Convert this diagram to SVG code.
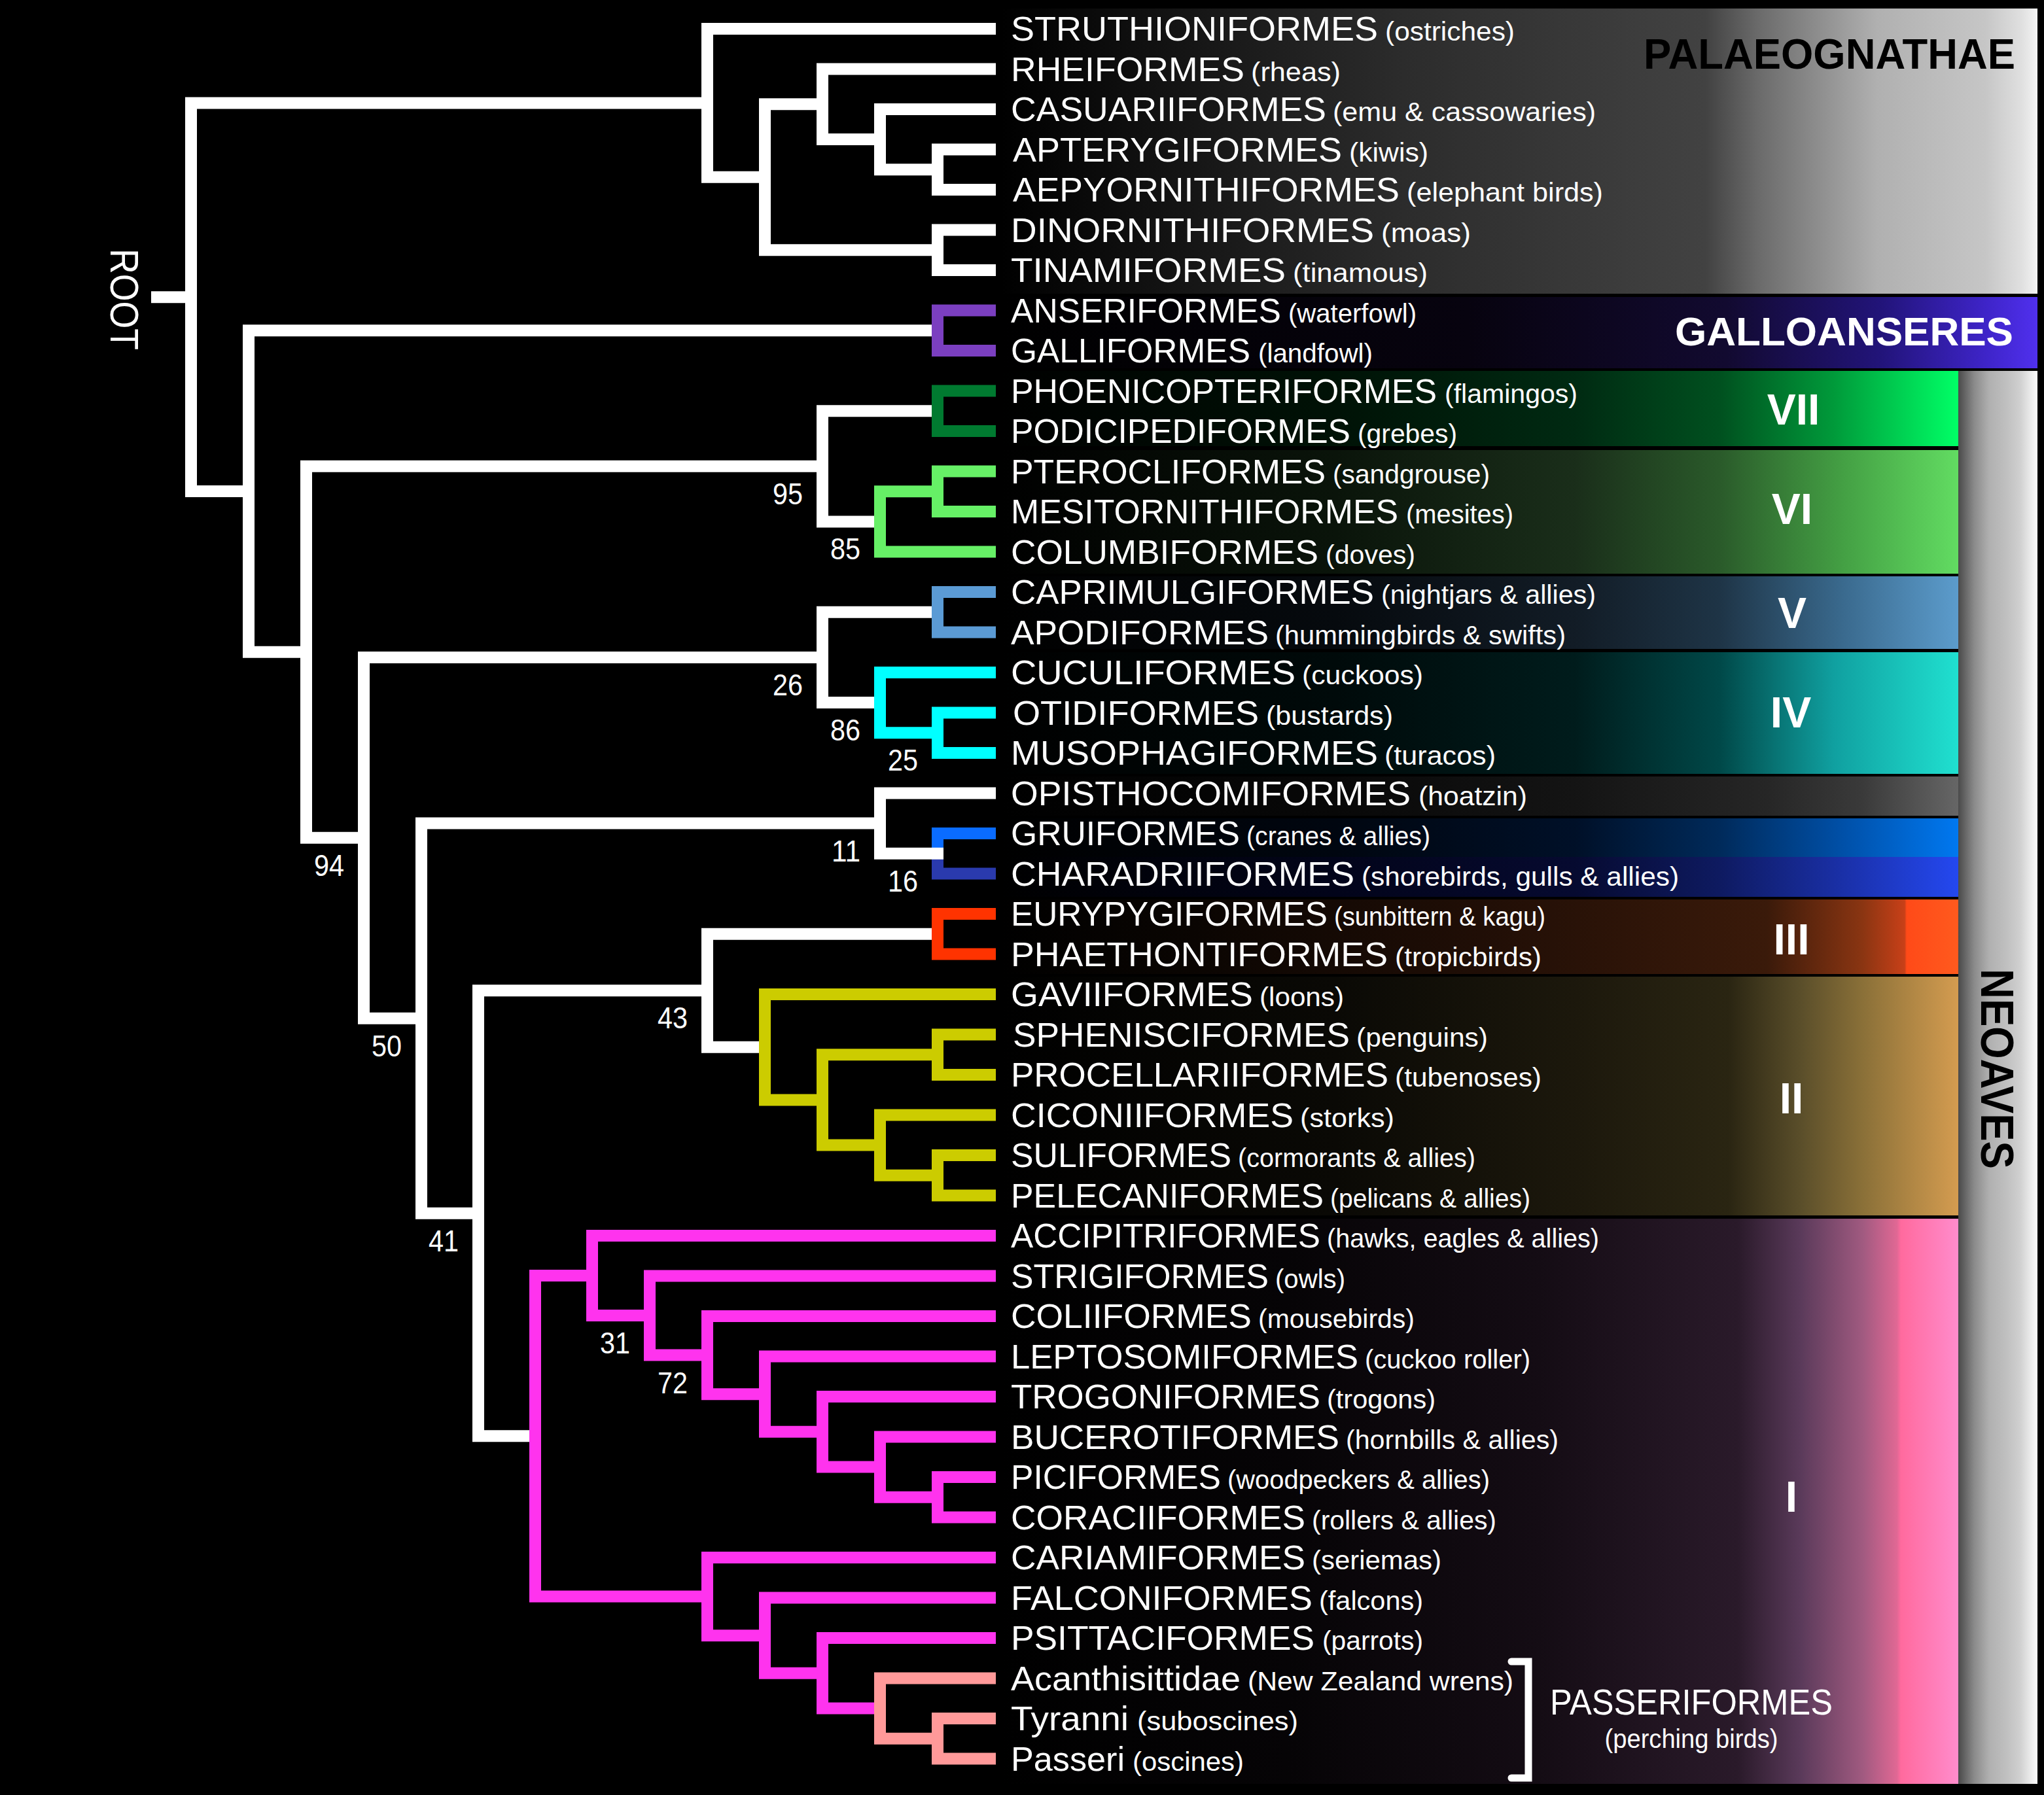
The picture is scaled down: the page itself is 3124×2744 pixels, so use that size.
<svg xmlns="http://www.w3.org/2000/svg" width="3124" height="2744" viewBox="0 0 3124 2744">
<style>
.n{font-family:"Liberation Sans",Arial,sans-serif;font-size:52px;fill:#fff}
.c{font-family:"Liberation Sans",Arial,sans-serif;font-size:40px;fill:#fff}
.s{font-family:"Liberation Sans",Arial,sans-serif;font-size:46px;fill:#fff;text-anchor:end}
.r{font-family:"Liberation Sans",Arial,sans-serif;font-size:66px;font-weight:bold;fill:#fff;text-anchor:middle}
.br{fill:none;stroke-width:18;stroke-linejoin:miter;stroke-linecap:butt}
.w{stroke:#fff}.pu{stroke:#7b3fc0}.dg{stroke:#007a30}.lg{stroke:#66f066}.sb{stroke:#5b9bd5}.cy{stroke:#00ffff}
.bl{stroke:#0a6cff}.db{stroke:#2a3aad}.rd{stroke:#ff3300}.ye{stroke:#cccc00}.mg{stroke:#ff33ee}.sa{stroke:#ff9999}
</style>
<defs>
<linearGradient id="gPal" gradientUnits="userSpaceOnUse" x1="1530" y1="0" x2="3114" y2="0">
<stop offset="0" stop-color="#000"/><stop offset="0.17" stop-color="#141414"/><stop offset="0.39" stop-color="#2c2c2c"/><stop offset="0.68" stop-color="#424242"/><stop offset="0.73" stop-color="#6a6a6a"/><stop offset="0.845" stop-color="#b0b0b0"/><stop offset="0.95" stop-color="#c6c6c6"/><stop offset="0.985" stop-color="#e0e0e0"/><stop offset="1" stop-color="#f4f4f4"/>
</linearGradient>
<linearGradient id="gGal" gradientUnits="userSpaceOnUse" x1="1530" y1="0" x2="3114" y2="0">
<stop offset="0" stop-color="#000"/><stop offset="0.45" stop-color="#07030f"/><stop offset="0.7" stop-color="#120a30"/><stop offset="0.85" stop-color="#22147a"/><stop offset="0.95" stop-color="#3e24c8"/><stop offset="1" stop-color="#5030ee"/>
</linearGradient>
<linearGradient id="g7" gradientUnits="userSpaceOnUse" x1="1530" y1="0" x2="2993" y2="0">
<stop offset="0" stop-color="#000"/><stop offset="0.35" stop-color="#001206"/><stop offset="0.6" stop-color="#002a12"/><stop offset="0.75" stop-color="#00501f"/><stop offset="0.87" stop-color="#009a3a"/><stop offset="1" stop-color="#00ff66"/>
</linearGradient>
<linearGradient id="g6" gradientUnits="userSpaceOnUse" x1="1530" y1="0" x2="2993" y2="0">
<stop offset="0" stop-color="#000"/><stop offset="0.35" stop-color="#0a140a"/><stop offset="0.6" stop-color="#1a2e1a"/><stop offset="0.75" stop-color="#2a5a2a"/><stop offset="0.88" stop-color="#44a044"/><stop offset="1" stop-color="#62dc62"/>
</linearGradient>
<linearGradient id="g5" gradientUnits="userSpaceOnUse" x1="1530" y1="0" x2="2993" y2="0">
<stop offset="0" stop-color="#000"/><stop offset="0.35" stop-color="#060a0e"/><stop offset="0.6" stop-color="#121c26"/><stop offset="0.75" stop-color="#1e3446"/><stop offset="0.88" stop-color="#3a6a8e"/><stop offset="1" stop-color="#5c9ccc"/>
</linearGradient>
<linearGradient id="g4" gradientUnits="userSpaceOnUse" x1="1530" y1="0" x2="2993" y2="0">
<stop offset="0" stop-color="#000"/><stop offset="0.35" stop-color="#000a0a"/><stop offset="0.6" stop-color="#001c1c"/><stop offset="0.75" stop-color="#004848"/><stop offset="0.87" stop-color="#10a0a0"/><stop offset="1" stop-color="#20e0d0"/>
</linearGradient>
<linearGradient id="gOp" gradientUnits="userSpaceOnUse" x1="1530" y1="0" x2="2993" y2="0">
<stop offset="0" stop-color="#000"/><stop offset="0.35" stop-color="#080808"/><stop offset="0.6" stop-color="#141414"/><stop offset="0.8" stop-color="#262626"/><stop offset="0.9" stop-color="#3a3a3a"/><stop offset="1" stop-color="#666"/>
</linearGradient>
<linearGradient id="gGr" gradientUnits="userSpaceOnUse" x1="1530" y1="0" x2="2993" y2="0">
<stop offset="0" stop-color="#000"/><stop offset="0.35" stop-color="#000610"/><stop offset="0.6" stop-color="#001028"/><stop offset="0.75" stop-color="#002a5a"/><stop offset="0.88" stop-color="#0050a8"/><stop offset="1" stop-color="#0078f0"/>
</linearGradient>
<linearGradient id="gCh" gradientUnits="userSpaceOnUse" x1="1530" y1="0" x2="2993" y2="0">
<stop offset="0" stop-color="#000"/><stop offset="0.35" stop-color="#02041a"/><stop offset="0.6" stop-color="#060a30"/><stop offset="0.75" stop-color="#0e1a60"/><stop offset="0.88" stop-color="#1a30a8"/><stop offset="1" stop-color="#2448f0"/>
</linearGradient>
<linearGradient id="g3" gradientUnits="userSpaceOnUse" x1="1530" y1="0" x2="2993" y2="0">
<stop offset="0" stop-color="#000"/><stop offset="0.2" stop-color="#0a0502"/><stop offset="0.5" stop-color="#200e06"/><stop offset="0.8" stop-color="#3a1a0a"/><stop offset="0.9" stop-color="#8a3512"/><stop offset="0.944" stop-color="#c84018"/><stop offset="0.946" stop-color="#ff4a18"/><stop offset="1" stop-color="#ff5a1e"/>
</linearGradient>
<linearGradient id="g2" gradientUnits="userSpaceOnUse" x1="1530" y1="0" x2="2993" y2="0">
<stop offset="0" stop-color="#000"/><stop offset="0.35" stop-color="#0a0905"/><stop offset="0.6" stop-color="#1c180c"/><stop offset="0.76" stop-color="#2a2512"/><stop offset="0.835" stop-color="#5a4e2a"/><stop offset="0.9" stop-color="#8a7038"/><stop offset="1" stop-color="#d49c50"/>
</linearGradient>
<linearGradient id="g1" gradientUnits="userSpaceOnUse" x1="1530" y1="0" x2="2993" y2="0">
<stop offset="0" stop-color="#000"/><stop offset="0.3" stop-color="#060406"/><stop offset="0.56" stop-color="#140c14"/><stop offset="0.77" stop-color="#2a1a2a"/><stop offset="0.835" stop-color="#5a3a5a"/><stop offset="0.9" stop-color="#a05a80"/><stop offset="0.936" stop-color="#e06894"/><stop offset="0.94" stop-color="#ff6a9e"/><stop offset="1" stop-color="#ff8ccc"/>
</linearGradient>
<linearGradient id="gNeo" gradientUnits="userSpaceOnUse" x1="2993" y1="0" x2="3114" y2="0">
<stop offset="0" stop-color="#4a4a4a"/><stop offset="0.2" stop-color="#8a8a8a"/><stop offset="0.39" stop-color="#b0b0b0"/><stop offset="0.61" stop-color="#c0c0c0"/><stop offset="0.78" stop-color="#d0d0d0"/><stop offset="0.94" stop-color="#f0f0f0"/><stop offset="1" stop-color="#fafafa"/>
</linearGradient>
</defs>
<rect x="0" y="0" width="3124" height="2744" fill="#000"/>
<g id="bands">
<rect x="1530" y="13" width="1584" height="436" fill="url(#gPal)"/>
<rect x="1530" y="454" width="1584" height="109" fill="url(#gGal)"/>
<rect x="2993" y="567" width="121" height="2160" fill="url(#gNeo)"/>
<rect x="1530" y="567" width="1463" height="115" fill="url(#g7)"/>
<rect x="1530" y="688" width="1463" height="189" fill="url(#g6)"/>
<rect x="1530" y="881" width="1463" height="111" fill="url(#g5)"/>
<rect x="1530" y="997" width="1463" height="186" fill="url(#g4)"/>
<rect x="1530" y="1187" width="1463" height="60" fill="url(#gOp)"/>
<rect x="1530" y="1251" width="1463" height="59" fill="url(#gGr)"/>
<rect x="1530" y="1310" width="1463" height="61" fill="url(#gCh)"/>
<rect x="1530" y="1375" width="1463" height="114" fill="url(#g3)"/>
<rect x="1530" y="1493" width="1463" height="365" fill="url(#g2)"/>
<rect x="1530" y="1863" width="1463" height="864" fill="url(#g1)"/>
</g>
<g id="connectors">
<path class="br w" d="M231,454.2 H292"/>
<path class="br w" d="M1081,157.4 H292 V751 H380"/>
<path class="br w" d="M1522,44 H1081 V270.8 H1169"/>
<path class="br w" d="M1257,159.3 H1169 V382.25 H1433"/>
<path class="br w" d="M1522,105.5 H1257 V213.1 H1345"/>
<path class="br w" d="M1522,167 H1345 V259.25 H1433"/>
<path class="br w" d="M1522,228.5 H1433 V290 H1522"/>
<path class="br w" d="M1522,351.5 H1433 V413 H1522"/>
<path class="br w" d="M1433,505.25 H380 V996.8 H468"/>
<path class="br w" d="M1257,712.8 H468 V1280.8 H556"/>
<path class="br w" d="M1433,628.25 H1257 V797.4 H1345"/>
<path class="br w" d="M1257,1004.9 H556 V1556.7 H644"/>
<path class="br w" d="M1433,935.75 H1257 V1074.1 H1345"/>
<path class="br w" d="M1345,1258.6 H644 V1854.8 H731"/>
<path class="br w" d="M1081,1514.2 H731 V2195.3 H818"/>
<path class="br w" d="M1433,1427.75 H1081 V1600.7 H1169"/>
<path class="br pu" d="M1522,474.5 H1433 V536 H1522"/>
<path class="br dg" d="M1522,597.5 H1433 V659 H1522"/>
<path class="br lg" d="M1433,751.25 H1345 V843.5 H1522"/>
<path class="br lg" d="M1522,720.5 H1433 V782 H1522"/>
<path class="br sb" d="M1522,905 H1433 V966.5 H1522"/>
<path class="br cy" d="M1522,1028 H1345 V1120.25 H1433"/>
<path class="br cy" d="M1522,1089.5 H1433 V1151 H1522"/>
<path class="br bl" d="M1522,1274 H1433 V1304.75"/>
<path class="br db" d="M1433,1304.75 V1335.5 H1522"/>
<path class="br w" d="M1522,1212.5 H1345 V1304.75 H1442"/>
<path class="br rd" d="M1522,1397 H1433 V1458.5 H1522"/>
<path class="br ye" d="M1522,1520 H1169 V1681.44 H1257"/>
<path class="br ye" d="M1433,1612.25 H1257 V1750.6 H1345"/>
<path class="br ye" d="M1522,1581.5 H1433 V1643 H1522"/>
<path class="br ye" d="M1522,1704.5 H1345 V1796.75 H1433"/>
<path class="br ye" d="M1522,1766 H1433 V1827.5 H1522"/>
<path class="br mg" d="M905,1950 H818 V2440.6 H1081"/>
<path class="br mg" d="M1522,1889 H905 V2011 H993"/>
<path class="br mg" d="M1522,1950.5 H993 V2071.6 H1081"/>
<path class="br mg" d="M1522,2012 H1081 V2131.2 H1169"/>
<path class="br mg" d="M1522,2073.5 H1169 V2188.8 H1257"/>
<path class="br mg" d="M1522,2135 H1257 V2242.6 H1345"/>
<path class="br mg" d="M1522,2196.5 H1345 V2288.75 H1433"/>
<path class="br mg" d="M1522,2258 H1433 V2319.5 H1522"/>
<path class="br mg" d="M1522,2381 H1081 V2500.2 H1169"/>
<path class="br mg" d="M1522,2442.5 H1169 V2557.8 H1257"/>
<path class="br mg" d="M1522,2504 H1257 V2611.6 H1345"/>
<path class="br sa" d="M1522,2565.5 H1345 V2657.75 H1433"/>
<path class="br sa" d="M1522,2627 H1433 V2688.5 H1522"/>
<path d="M2310,2540 H2336 V2718 H2310" fill="none" stroke="#fff" stroke-width="11" stroke-linecap="round"/>
</g>
<g id="support">
<text class="s" x="1227" y="771" textLength="46" lengthAdjust="spacingAndGlyphs">95</text>
<text class="s" x="1315" y="855" textLength="46" lengthAdjust="spacingAndGlyphs">85</text>
<text class="s" x="1227" y="1063" textLength="46" lengthAdjust="spacingAndGlyphs">26</text>
<text class="s" x="1315" y="1132" textLength="46" lengthAdjust="spacingAndGlyphs">86</text>
<text class="s" x="1403" y="1178" textLength="46" lengthAdjust="spacingAndGlyphs">25</text>
<text class="s" x="1315" y="1317" textLength="44" lengthAdjust="spacingAndGlyphs">11</text>
<text class="s" x="1403" y="1363" textLength="46" lengthAdjust="spacingAndGlyphs">16</text>
<text class="s" x="526" y="1339" textLength="46" lengthAdjust="spacingAndGlyphs">94</text>
<text class="s" x="614" y="1615" textLength="46" lengthAdjust="spacingAndGlyphs">50</text>
<text class="s" x="1051" y="1572" textLength="46" lengthAdjust="spacingAndGlyphs">43</text>
<text class="s" x="701" y="1913" textLength="46" lengthAdjust="spacingAndGlyphs">41</text>
<text class="s" x="963" y="2069" textLength="46" lengthAdjust="spacingAndGlyphs">31</text>
<text class="s" x="1051" y="2130" textLength="46" lengthAdjust="spacingAndGlyphs">72</text>
</g>
<g id="leaves">
<g id="t0"><text class="n" x="1545" y="62" textLength="561" lengthAdjust="spacingAndGlyphs">STRUTHIONIFORMES</text><text class="c" x="2117" y="62" textLength="198" lengthAdjust="spacingAndGlyphs">(ostriches)</text></g>
<g id="t1"><text class="n" x="1545" y="123.5" textLength="357" lengthAdjust="spacingAndGlyphs">RHEIFORMES</text><text class="c" x="1912" y="123.5" textLength="137" lengthAdjust="spacingAndGlyphs">(rheas)</text></g>
<g id="t2"><text class="n" x="1545" y="185" textLength="482" lengthAdjust="spacingAndGlyphs">CASUARIIFORMES</text><text class="c" x="2037" y="185" textLength="402" lengthAdjust="spacingAndGlyphs">(emu &amp; cassowaries)</text></g>
<g id="t3"><text class="n" x="1548" y="246.5" textLength="503" lengthAdjust="spacingAndGlyphs">APTERYGIFORMES</text><text class="c" x="2062" y="246.5" textLength="121" lengthAdjust="spacingAndGlyphs">(kiwis)</text></g>
<g id="t4"><text class="n" x="1548" y="308" textLength="591" lengthAdjust="spacingAndGlyphs">AEPYORNITHIFORMES</text><text class="c" x="2150" y="308" textLength="300" lengthAdjust="spacingAndGlyphs">(elephant birds)</text></g>
<g id="t5"><text class="n" x="1545" y="369.5" textLength="555" lengthAdjust="spacingAndGlyphs">DINORNITHIFORMES</text><text class="c" x="2111" y="369.5" textLength="137" lengthAdjust="spacingAndGlyphs">(moas)</text></g>
<g id="t6"><text class="n" x="1545" y="431" textLength="420" lengthAdjust="spacingAndGlyphs">TINAMIFORMES</text><text class="c" x="1976" y="431" textLength="206" lengthAdjust="spacingAndGlyphs">(tinamous)</text></g>
<g id="t7"><text class="n" x="1545" y="492.5" textLength="413" lengthAdjust="spacingAndGlyphs">ANSERIFORMES</text><text class="c" x="1969" y="492.5" textLength="196" lengthAdjust="spacingAndGlyphs">(waterfowl)</text></g>
<g id="t8"><text class="n" x="1545" y="554" textLength="366" lengthAdjust="spacingAndGlyphs">GALLIFORMES</text><text class="c" x="1923" y="554" textLength="175" lengthAdjust="spacingAndGlyphs">(landfowl)</text></g>
<g id="t9"><text class="n" x="1545" y="615.5" textLength="651" lengthAdjust="spacingAndGlyphs">PHOENICOPTERIFORMES</text><text class="c" x="2208" y="615.5" textLength="203" lengthAdjust="spacingAndGlyphs">(flamingos)</text></g>
<g id="t10"><text class="n" x="1545" y="677" textLength="519" lengthAdjust="spacingAndGlyphs">PODICIPEDIFORMES</text><text class="c" x="2075" y="677" textLength="152" lengthAdjust="spacingAndGlyphs">(grebes)</text></g>
<g id="t11"><text class="n" x="1545" y="738.5" textLength="481" lengthAdjust="spacingAndGlyphs">PTEROCLIFORMES</text><text class="c" x="2037" y="738.5" textLength="240" lengthAdjust="spacingAndGlyphs">(sandgrouse)</text></g>
<g id="t12"><text class="n" x="1545" y="800" textLength="592" lengthAdjust="spacingAndGlyphs">MESITORNITHIFORMES</text><text class="c" x="2149" y="800" textLength="164" lengthAdjust="spacingAndGlyphs">(mesites)</text></g>
<g id="t13"><text class="n" x="1545" y="861.5" textLength="470" lengthAdjust="spacingAndGlyphs">COLUMBIFORMES</text><text class="c" x="2026" y="861.5" textLength="137" lengthAdjust="spacingAndGlyphs">(doves)</text></g>
<g id="t14"><text class="n" x="1545" y="923" textLength="555" lengthAdjust="spacingAndGlyphs">CAPRIMULGIFORMES</text><text class="c" x="2111" y="923" textLength="328" lengthAdjust="spacingAndGlyphs">(nightjars &amp; allies)</text></g>
<g id="t15"><text class="n" x="1545" y="984.5" textLength="394" lengthAdjust="spacingAndGlyphs">APODIFORMES</text><text class="c" x="1949" y="984.5" textLength="444" lengthAdjust="spacingAndGlyphs">(hummingbirds &amp; swifts)</text></g>
<g id="t16"><text class="n" x="1545" y="1046" textLength="435" lengthAdjust="spacingAndGlyphs">CUCULIFORMES</text><text class="c" x="1990" y="1046" textLength="185" lengthAdjust="spacingAndGlyphs">(cuckoos)</text></g>
<g id="t17"><text class="n" x="1548" y="1107.5" textLength="376" lengthAdjust="spacingAndGlyphs">OTIDIFORMES</text><text class="c" x="1935" y="1107.5" textLength="194" lengthAdjust="spacingAndGlyphs">(bustards)</text></g>
<g id="t18"><text class="n" x="1545" y="1169" textLength="561" lengthAdjust="spacingAndGlyphs">MUSOPHAGIFORMES</text><text class="c" x="2116" y="1169" textLength="170" lengthAdjust="spacingAndGlyphs">(turacos)</text></g>
<g id="t19"><text class="n" x="1545" y="1230.5" textLength="611" lengthAdjust="spacingAndGlyphs">OPISTHOCOMIFORMES</text><text class="c" x="2168" y="1230.5" textLength="166" lengthAdjust="spacingAndGlyphs">(hoatzin)</text></g>
<g id="t20"><text class="n" x="1545" y="1292" textLength="350" lengthAdjust="spacingAndGlyphs">GRUIFORMES</text><text class="c" x="1905" y="1292" textLength="281" lengthAdjust="spacingAndGlyphs">(cranes &amp; allies)</text></g>
<g id="t21"><text class="n" x="1545" y="1353.5" textLength="525" lengthAdjust="spacingAndGlyphs">CHARADRIIFORMES</text><text class="c" x="2081" y="1353.5" textLength="485" lengthAdjust="spacingAndGlyphs">(shorebirds, gulls &amp; allies)</text></g>
<g id="t22"><text class="n" x="1545" y="1415" textLength="484" lengthAdjust="spacingAndGlyphs">EURYPYGIFORMES</text><text class="c" x="2039" y="1415" textLength="323" lengthAdjust="spacingAndGlyphs">(sunbittern &amp; kagu)</text></g>
<g id="t23"><text class="n" x="1545" y="1476.5" textLength="576" lengthAdjust="spacingAndGlyphs">PHAETHONTIFORMES</text><text class="c" x="2132" y="1476.5" textLength="224" lengthAdjust="spacingAndGlyphs">(tropicbirds)</text></g>
<g id="t24"><text class="n" x="1545" y="1538" textLength="370" lengthAdjust="spacingAndGlyphs">GAVIIFORMES</text><text class="c" x="1925" y="1538" textLength="129" lengthAdjust="spacingAndGlyphs">(loons)</text></g>
<g id="t25"><text class="n" x="1548" y="1599.5" textLength="515" lengthAdjust="spacingAndGlyphs">SPHENISCIFORMES</text><text class="c" x="2073" y="1599.5" textLength="201" lengthAdjust="spacingAndGlyphs">(penguins)</text></g>
<g id="t26"><text class="n" x="1545" y="1661" textLength="577" lengthAdjust="spacingAndGlyphs">PROCELLARIIFORMES</text><text class="c" x="2132" y="1661" textLength="224" lengthAdjust="spacingAndGlyphs">(tubenoses)</text></g>
<g id="t27"><text class="n" x="1545" y="1722.5" textLength="432" lengthAdjust="spacingAndGlyphs">CICONIIFORMES</text><text class="c" x="1987" y="1722.5" textLength="144" lengthAdjust="spacingAndGlyphs">(storks)</text></g>
<g id="t28"><text class="n" x="1545" y="1784" textLength="337" lengthAdjust="spacingAndGlyphs">SULIFORMES</text><text class="c" x="1892" y="1784" textLength="363" lengthAdjust="spacingAndGlyphs">(cormorants &amp; allies)</text></g>
<g id="t29"><text class="n" x="1545" y="1845.5" textLength="478" lengthAdjust="spacingAndGlyphs">PELECANIFORMES</text><text class="c" x="2033" y="1845.5" textLength="306" lengthAdjust="spacingAndGlyphs">(pelicans &amp; allies)</text></g>
<g id="t30"><text class="n" x="1545" y="1907" textLength="473" lengthAdjust="spacingAndGlyphs">ACCIPITRIFORMES</text><text class="c" x="2028" y="1907" textLength="416" lengthAdjust="spacingAndGlyphs">(hawks, eagles &amp; allies)</text></g>
<g id="t31"><text class="n" x="1545" y="1968.5" textLength="394" lengthAdjust="spacingAndGlyphs">STRIGIFORMES</text><text class="c" x="1949" y="1968.5" textLength="107" lengthAdjust="spacingAndGlyphs">(owls)</text></g>
<g id="t32"><text class="n" x="1545" y="2030" textLength="368" lengthAdjust="spacingAndGlyphs">COLIIFORMES</text><text class="c" x="1923" y="2030" textLength="239" lengthAdjust="spacingAndGlyphs">(mousebirds)</text></g>
<g id="t33"><text class="n" x="1545" y="2091.5" textLength="531" lengthAdjust="spacingAndGlyphs">LEPTOSOMIFORMES</text><text class="c" x="2086" y="2091.5" textLength="253" lengthAdjust="spacingAndGlyphs">(cuckoo roller)</text></g>
<g id="t34"><text class="n" x="1545" y="2153" textLength="473" lengthAdjust="spacingAndGlyphs">TROGONIFORMES</text><text class="c" x="2028" y="2153" textLength="166" lengthAdjust="spacingAndGlyphs">(trogons)</text></g>
<g id="t35"><text class="n" x="1545" y="2214.5" textLength="502" lengthAdjust="spacingAndGlyphs">BUCEROTIFORMES</text><text class="c" x="2057" y="2214.5" textLength="325" lengthAdjust="spacingAndGlyphs">(hornbills &amp; allies)</text></g>
<g id="t36"><text class="n" x="1545" y="2276" textLength="321" lengthAdjust="spacingAndGlyphs">PICIFORMES</text><text class="c" x="1876" y="2276" textLength="401" lengthAdjust="spacingAndGlyphs">(woodpeckers &amp; allies)</text></g>
<g id="t37"><text class="n" x="1545" y="2337.5" textLength="450" lengthAdjust="spacingAndGlyphs">CORACIIFORMES</text><text class="c" x="2005" y="2337.5" textLength="282" lengthAdjust="spacingAndGlyphs">(rollers &amp; allies)</text></g>
<g id="t38"><text class="n" x="1545" y="2399" textLength="450" lengthAdjust="spacingAndGlyphs">CARIAMIFORMES</text><text class="c" x="2005" y="2399" textLength="198" lengthAdjust="spacingAndGlyphs">(seriemas)</text></g>
<g id="t39"><text class="n" x="1545" y="2460.5" textLength="461" lengthAdjust="spacingAndGlyphs">FALCONIFORMES</text><text class="c" x="2016" y="2460.5" textLength="159" lengthAdjust="spacingAndGlyphs">(falcons)</text></g>
<g id="t40"><text class="n" x="1545" y="2522" textLength="464" lengthAdjust="spacingAndGlyphs">PSITTACIFORMES</text><text class="c" x="2021" y="2522" textLength="154" lengthAdjust="spacingAndGlyphs">(parrots)</text></g>
<g id="t41"><text class="n" x="1545" y="2583.5" textLength="351" lengthAdjust="spacingAndGlyphs">Acanthisittidae</text><text class="c" x="1907" y="2583.5" textLength="406" lengthAdjust="spacingAndGlyphs">(New Zealand wrens)</text></g>
<g id="t42"><text class="n" x="1545" y="2645" textLength="180" lengthAdjust="spacingAndGlyphs">Tyranni</text><text class="c" x="1738" y="2645" textLength="246" lengthAdjust="spacingAndGlyphs">(suboscines)</text></g>
<g id="t43"><text class="n" x="1545" y="2706.5" textLength="174" lengthAdjust="spacingAndGlyphs">Passeri</text><text class="c" x="1731" y="2706.5" textLength="170" lengthAdjust="spacingAndGlyphs">(oscines)</text></g>
</g>
<g id="clade-labels">
<text x="2512" y="105" font-family="Liberation Sans, Arial, sans-serif" font-size="64" font-weight="bold" fill="#000" textLength="568" lengthAdjust="spacingAndGlyphs">PALAEOGNATHAE</text>
<text x="2560" y="528" font-family="Liberation Sans, Arial, sans-serif" font-size="62" font-weight="bold" fill="#fff" textLength="517" lengthAdjust="spacingAndGlyphs">GALLOANSERES</text>
<text transform="translate(3028,1634) rotate(90)" x="0" y="0" text-anchor="middle" font-family="Liberation Sans, Arial, sans-serif" font-size="70" font-weight="bold" fill="#000" textLength="306" lengthAdjust="spacingAndGlyphs">NEOAVES</text>
<text transform="translate(169,457.5) rotate(90)" x="0" y="0" text-anchor="middle" font-family="Liberation Sans, Arial, sans-serif" font-size="62" fill="#fff" textLength="155" lengthAdjust="spacingAndGlyphs">ROOT</text>
<text class="r" x="2741" y="649">VII</text>
<text class="r" x="2739" y="801">VI</text>
<text class="r" x="2739" y="960">V</text>
<text class="r" x="2737" y="1112">IV</text>
<text class="r" x="2738" y="1459">III</text>
<text class="r" x="2738" y="1702">II</text>
<text class="r" x="2738" y="2311">I</text>
<text x="2585" y="2621" text-anchor="middle" font-family="Liberation Sans, Arial, sans-serif" font-size="56" fill="#fff" textLength="432" lengthAdjust="spacingAndGlyphs">PASSERIFORMES</text>
<text x="2585" y="2672" text-anchor="middle" font-family="Liberation Sans, Arial, sans-serif" font-size="40" fill="#fff" textLength="265" lengthAdjust="spacingAndGlyphs">(perching birds)</text>
</g>
</svg>
